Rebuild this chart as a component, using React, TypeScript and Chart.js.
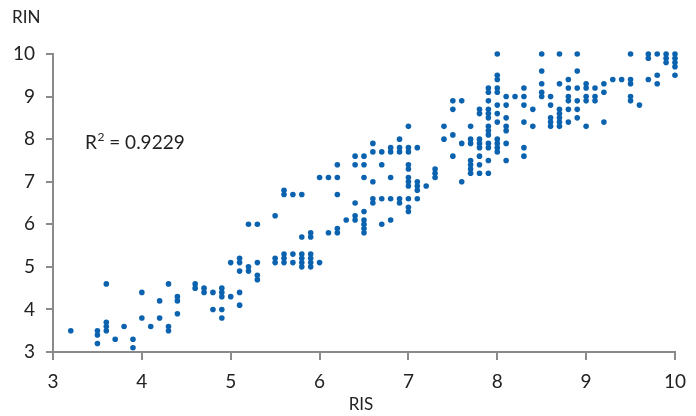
import React, { useEffect, useRef } from "react";
import { Chart, registerables } from "chart.js";

Chart.register(...registerables);

// RIS values (x) – one entry per column of points
const risColumns: number[] = [
  3.2, 3.5, 3.6, 3.7, 3.8, 3.9, 4.0, 4.1, 4.2, 4.3, 4.4, 4.6, 4.7, 4.8, 4.9,
  5.0, 5.1, 5.2, 5.3, 5.5, 5.6, 5.7, 5.8, 5.9, 6.0, 6.1, 6.2, 6.3, 6.4, 6.5,
  6.6, 6.7, 6.8, 6.9, 7.0, 7.1, 7.2, 7.3, 7.4, 7.5, 7.6, 7.7, 7.8, 7.9, 8.0,
  8.1, 8.2, 8.3, 8.4, 8.5, 8.6, 8.7, 8.8, 8.9, 9.0, 9.1, 9.2, 9.3, 9.4, 9.5,
  9.6, 9.7, 9.8, 9.9, 10.0,
];

// RIN values (y) for each RIS column above
const rinByColumn: number[][] = [
  [3.5],
  [3.5, 3.4, 3.2],
  [4.6, 3.7, 3.6, 3.5],
  [3.3],
  [3.6],
  [3.3, 3.1],
  [4.4, 3.8],
  [3.6],
  [4.2, 3.8],
  [4.6, 3.6, 3.5],
  [4.3, 4.2, 3.9],
  [4.6, 4.5],
  [4.5, 4.4],
  [4.4, 4.0],
  [4.5, 4.4, 4.3, 4.0, 3.8],
  [5.1, 4.3],
  [5.2, 5.1, 4.9, 4.4, 4.1],
  [6.0, 5.0, 4.9],
  [6.0, 5.1, 4.8, 4.7],
  [6.2, 5.2, 5.1],
  [6.8, 6.7, 5.3, 5.2, 5.1],
  [6.7, 5.3, 5.1],
  [6.7, 5.7, 5.3, 5.2, 5.1, 5.0],
  [5.8, 5.7, 5.3, 5.2, 5.1, 5.0],
  [7.1, 5.1],
  [7.1, 5.8],
  [7.4, 7.1, 6.7, 5.9, 5.8],
  [6.1],
  [7.6, 7.4, 6.5, 6.2, 6.1],
  [7.6, 7.4, 7.1, 6.3, 6.1, 6.0, 5.9, 5.8],
  [7.9, 7.7, 7.0, 6.6, 6.5],
  [7.7, 7.4, 6.6, 6.0],
  [7.8, 7.7, 7.1, 6.6, 6.1],
  [8.0, 7.8, 7.7, 6.6, 6.5],
  [8.3, 7.8, 7.7, 7.4, 7.3, 7.1, 7.0, 6.9, 6.6, 6.4, 6.3],
  [7.8, 7.0, 6.9, 6.8, 6.6],
  [6.9],
  [7.3, 7.2, 7.1],
  [8.3, 8.0],
  [8.9, 8.7, 8.1, 7.6],
  [8.9, 7.9, 7.0],
  [8.3, 8.0, 7.9, 7.5, 7.4, 7.3, 7.2],
  [8.7, 8.6, 8.0, 7.9, 7.8, 7.6, 7.4, 7.2],
  [9.2, 9.1, 8.9, 8.7, 8.6, 8.5, 8.3, 8.2, 8.1, 7.9, 7.8, 7.5, 7.2],
  [10.0, 9.5, 9.4, 9.2, 9.1, 8.8, 8.6, 8.4, 8.0, 7.9, 7.8, 7.7],
  [9.0, 8.8, 8.5, 8.3, 8.2, 7.9, 7.5],
  [9.0],
  [9.2, 9.0, 8.8, 8.4, 7.8, 7.6],
  [8.7, 8.3],
  [10.0, 9.6, 9.3, 9.1, 9.0],
  [9.0, 8.8, 8.5, 8.4, 8.3],
  [10.0, 9.3, 8.7, 8.6, 8.5, 8.4, 8.3],
  [9.4, 9.2, 9.0, 8.9, 8.7, 8.4],
  [10.0, 9.6, 9.2, 8.9, 8.7, 8.5],
  [9.3, 9.2, 9.0, 8.9, 8.3],
  [9.2, 9.0, 8.9],
  [9.3, 9.1, 8.4],
  [9.4],
  [9.4],
  [10.0, 9.4, 9.3, 9.0, 8.9],
  [8.8],
  [10.0, 9.9, 9.4],
  [10.0, 9.5, 9.3],
  [10.0, 9.9, 9.8],
  [10.0, 9.9, 9.8, 9.7, 9.5],
];

const xTicks: number[] = [3, 4, 5, 6, 7, 8, 9, 10];
const yTicks: number[] = [3, 4, 5, 6, 7, 8, 9, 10];
const xTitle = "RIS";
const yTitle = "RIN";
const rSquared = "0.9229";

const FONT = "Lato, 'Noto Sans', sans-serif";
const TEXT = "#222222";
const AXIS = "#8a8a8a";
const DOT = "#0b62ae";

export default function App() {
  const ref = useRef<HTMLCanvasElement | null>(null);

  useEffect(() => {
    document.body.style.margin = "0";
    const canvas = ref.current;
    if (!canvas) return;

    const points: { x: number; y: number }[] = [];
    risColumns.forEach((x, i) => {
      rinByColumn[i].forEach((y) => points.push({ x, y }));
    });

    const labelsPlugin = {
      id: "labels",
      afterDraw(chart: any) {
        const ctx = chart.ctx;
        ctx.save();
        ctx.fillStyle = TEXT;
        ctx.textBaseline = "middle";
        ctx.font = `17px ${FONT}`;
        ctx.textAlign = "left";
        ctx.fillText(yTitle, 12, 18);
        ctx.textAlign = "center";
        ctx.fillText(xTitle, 361, 405);
        // R² annotation
        ctx.textAlign = "left";
        ctx.font = `19px ${FONT}`;
        let x = 85;
        const y = 143;
        ctx.fillText("R", x, y);
        x += ctx.measureText("R").width;
        ctx.font = `12px ${FONT}`;
        ctx.fillText("2", x + 0.5, y - 6);
        x += ctx.measureText("2").width + 0.5;
        ctx.font = `19px ${FONT}`;
        ctx.fillText(" = " + rSquared, x, y);
        ctx.restore();
      },
    };

    const chart = new Chart(canvas, {
      type: "scatter",
      data: {
        datasets: [
          {
            data: points,
            backgroundColor: DOT,
            borderColor: DOT,
            borderWidth: 0,
            pointRadius: 2.8,
            clip: false as any,
          },
        ],
      },
      options: {
        animation: false,
        responsive: false,
        maintainAspectRatio: false,
        layout: { padding: { left: 0, right: 20, top: 54, bottom: 0 } },
        plugins: {
          legend: { display: false },
          tooltip: { enabled: false },
        },
        scales: {
          x: {
            type: "linear",
            min: 3,
            max: 10,
            afterBuildTicks: (s: any) => {
              s.ticks = xTicks.map((v) => ({ value: v }));
            },
            afterFit: (s: any) => {
              s.height = 64;
            },
            ticks: {
              color: TEXT,
              font: { family: FONT, size: 19 },
              padding: 10,
              maxRotation: 0,
            },
            grid: {
              drawOnChartArea: false,
              drawTicks: true,
              tickLength: 8,
              color: AXIS,
              lineWidth: 2,
            },
            border: { display: true, color: AXIS, width: 2 },
          },
          y: {
            type: "linear",
            min: 3,
            max: 10,
            afterBuildTicks: (s: any) => {
              s.ticks = yTicks.map((v) => ({ value: v }));
            },
            afterFit: (s: any) => {
              s.width = 53;
            },
            ticks: {
              color: TEXT,
              font: { family: FONT, size: 19 },
              padding: 11,
            },
            grid: {
              drawOnChartArea: false,
              drawTicks: true,
              tickLength: 7,
              color: AXIS,
              lineWidth: 2,
            },
            border: { display: true, color: AXIS, width: 2 },
          },
        },
      },
      plugins: [labelsPlugin],
    });

    return () => chart.destroy();
  }, []);

  return (
    <div style={{ position: "absolute", left: 0, top: 0, width: 696, height: 416 }}>
      <canvas ref={ref} width={696} height={416} style={{ display: "block" }} />
    </div>
  );
}
